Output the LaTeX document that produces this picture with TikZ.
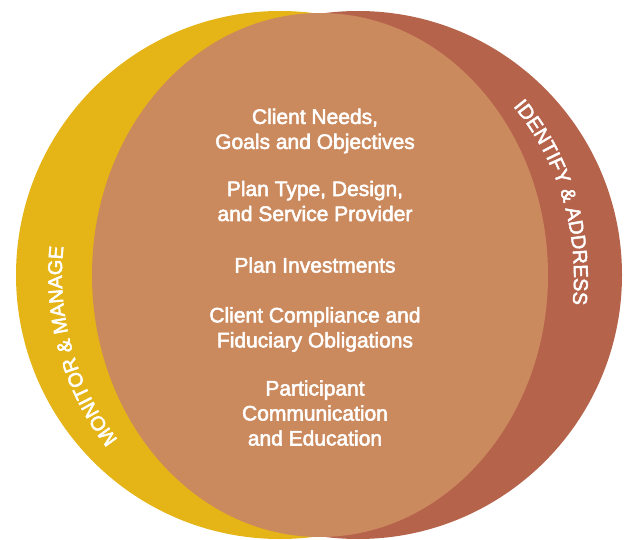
\documentclass[tikz,border=0pt]{standalone}
\usepackage{fontspec}
\setmainfont{Liberation Sans}
\newfontfamily\labelfont{Liberation Sans}[FakeBold=2.5]
\usetikzlibrary{decorations.text}
\definecolor{mgold}{RGB}{229,180,23}
\definecolor{mrust}{RGB}{182,99,76}
\definecolor{mtan}{RGB}{203,138,94}
\tikzset{
  item/.style={text=white,align=center,font=\labelfont\fontsize{21}{25}\selectfont},
  bandtext/.style={decorate,decoration={text along path,text align=center,
      text={|\labelfont\fontsize{20}{20}\selectfont\color{white}|#1}}}
}

\begin{document}
\begin{tikzpicture}[x=1pt,y=-1pt]
      \useasboundingbox (0,0) rectangle (624,540);
      \fill[mgold] (280,275) circle [radius=264];
      \fill[mrust] (358,275) circle [radius=264];
      \fill[mtan] (320,275) ellipse [x radius=228, y radius=262];
      \path[bandtext={MONITOR {\&} MANAGE}] (301,275) ++(128:239 and 256) arc [start angle=128, end angle=198, x radius=239, y radius=256];
      \path[bandtext={IDENTIFY {\&} ADDRESS}] (335,277) ++(-53:239 and 256) arc [start angle=-53, end angle=17, x radius=239, y radius=256];
      \node[item] (needs) at (315,131) {Client Needs,\\Goals and Objectives};
      \node[item] (design) at (315,201) {Plan Type, Design,\\and Service Provider};
      \node[item] (invest) at (315,265) {Plan Investments};
      \node[item] (comply) at (315,329.5) {Client Compliance and\\Fiduciary Obligations};
      \node[item] (educate) at (315,413) {Participant\\Communication\\and Education};
    \end{tikzpicture}
\end{document}
